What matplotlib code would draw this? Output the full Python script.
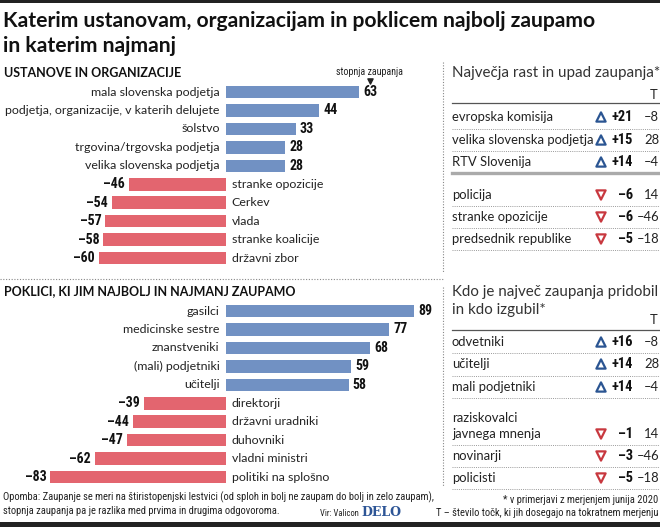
import matplotlib
matplotlib.use('Agg')
import matplotlib.pyplot as plt
from matplotlib import font_manager
from matplotlib.patches import Rectangle

# podatki
inst_labels = ['mala slovenska podjetja', 'podjetja, organizacije, v katerih delujete',
               'šolstvo', 'trgovina/trgovska podjetja', 'velika slovenska podjetja',
               'stranke opozicije', 'Cerkev', 'vlada', 'stranke koalicije', 'državni zbor']
inst_vals = [63, 44, 33, 28, 28, -46, -54, -57, -58, -60]

prof_labels = ['gasilci', 'medicinske sestre', 'znanstveniki', '(mali) podjetniki', 'učitelji',
               'direktorji', 'državni uradniki', 'duhovniki', 'vladni ministri', 'politiki na splošno']
prof_vals = [89, 77, 68, 59, 58, -39, -44, -47, -62, -83]

t1_names = ['evropska komisija', 'velika slovenska podjetja', 'RTV Slovenija',
            'policija', 'stranke opozicije', 'predsednik republike']
t1_change = [21, 15, 14, -6, -6, -5]
t1_T = [-8, 28, -4, 14, -46, -18]

t2_names = ['odvetniki', 'učitelji', 'mali podjetniki', 'raziskovalci\njavnega mnenja',
            'novinarji', 'policisti']
t2_change = [16, 14, 14, -1, -3, -5]
t2_T = [-8, 28, -4, 14, -46, -18]

BLUE = '#7191c3'
RED = '#e3656f'
TRI_BLUE = '#2b5592'
TRI_RED = '#c8383f'

names = {f.name for f in font_manager.fontManager.ttflist}
COND = next((n for n in ['Roboto Condensed', 'Open Sans Condensed', 'Fira Sans Condensed',
                         'Liberation Sans Narrow', 'Noto Sans Condensed'] if n in names), None)
SANS = ['Lato', 'Open Sans', 'DejaVu Sans']
plt.rcParams['font.family'] = SANS


def num(v, sign=False):
    s = str(abs(v))
    if v < 0:
        return '–' + s
    return ('+' + s) if sign else s


def cond_kw(size):
    # ozka pisava, če obstaja, sicer manjša navadna
    if COND:
        return dict(family=[COND, 'DejaVu Sans'], fontsize=size)
    return dict(family=SANS, fontsize=size * 0.86)


W, H = 660, 527
LAB = 8.9
TLAB = 9.4
fig = plt.figure(figsize=(W / 100, H / 100), dpi=100)
fig.patch.set_facecolor('white')

ov = fig.add_axes([0, 0, 1, 1])
ov.set_xlim(0, W)
ov.set_ylim(H, 0)
ov.axis('off')

# okvir
ov.add_patch(Rectangle((0, 0), W, 3, color='#222222', lw=0))
ov.add_patch(Rectangle((0, 522), W, 5, color='#222222', lw=0))

# naslov
ov.text(3, 21, 'Katerim ustanovam, organizacijam in poklicem najbolj zaupamo',
        fontsize=15.2, fontweight='bold', va='center', color='#111111')
ov.text(3, 46, 'in katerim najmanj', fontsize=15.2, fontweight='bold', va='center', color='#111111')

ov.text(4, 73, 'USTANOVE IN ORGANIZACIJE', fontsize=9, fontweight='bold', va='center', color='#111111')
ov.text(4, 291, 'POKLICI, KI JIM NAJBOLJ IN NAJMANJ ZAUPAMO', fontsize=9, fontweight='bold',
        va='center', color='#111111')

ov.text(370, 72, 'stopnja zaupanja', ha='center', va='center', color='#222222', **cond_kw(7.2))
ov.scatter([370], [81], marker='v', s=14, color='#222222')

# ločilne črte
ov.plot([0, 443], [279, 279], color='#888888', lw=0.8, ls=(0, (1, 1.5)))
ov.plot([443, 443], [62, 272], color='#888888', lw=0.8, ls=(0, (1, 1.5)))
ov.plot([443, 443], [287, 486], color='#888888', lw=0.8, ls=(0, (1, 1.5)))

# stolpci
SCALE = 2.115
ZERO = 226


def bars(top_px, labels, vals):
    n = len(vals)
    step = 18.45
    ax = fig.add_axes([0, 1 - (top_px + n * step) / H, 440 / W, n * step / H])
    ax.set_xlim(-ZERO / SCALE, (440 - ZERO) / SCALE)
    ax.set_ylim(n - 0.5, -0.5)
    ax.axis('off')
    y = list(range(n))
    cols = [BLUE if v > 0 else RED for v in vals]
    ax.barh(y, vals, height=0.68, color=cols, edgecolor='none')
    for i, (lab, v) in enumerate(zip(labels, vals)):
        if v > 0:
            ax.annotate(lab, (0, i), xytext=(-4.5, 0), textcoords='offset points',
                        ha='right', va='center', fontsize=LAB, color='#222222')
            ax.annotate(num(v), (v, i), xytext=(3, 0), textcoords='offset points',
                        ha='left', va='center', fontweight='bold', color='#111111', **cond_kw(10))
        else:
            ax.annotate(lab, (0, i), xytext=(4, 0), textcoords='offset points',
                        ha='left', va='center', fontsize=LAB, color='#222222')
            ax.annotate(num(v), (v, i), xytext=(-3, 0), textcoords='offset points',
                        ha='right', va='center', fontweight='bold', color='#111111', **cond_kw(10))
    return ax


bars(82.8, inst_labels, inst_vals)
bars(301.8, prof_labels, prof_vals)

# tabeli
DOT = dict(color='#9a9a9a', lw=0.7, ls=(0, (1, 1.2)))


def table(title_lines, t_y, line_y, rows_y, seps_y, names_, ch, tv, thick=None):
    for ty, s in title_lines:
        ov.text(452, ty, s, fontsize=10.9, va='center', color='#333333')
    ov.text(658, t_y, 'T', ha='right', va='center', fontsize=TLAB, color='#222222')
    ov.plot([452, 660], [line_y, line_y], color='#555555', lw=0.9)
    for y, nm, c, t in zip(rows_y, names_, ch, tv):
        if '\n' in nm:
            ov.text(452, y + 6, nm, va='bottom', fontsize=TLAB, color='#222222', linespacing=1.4)
        else:
            ov.text(452, y, nm, va='center', fontsize=TLAB, color='#222222')
        up = c > 0
        ov.scatter([601], [y], marker='^' if up else 'v', s=44, facecolors='none',
                   edgecolors=TRI_BLUE if up else TRI_RED, linewidths=1.6)
        ov.text(633, y, num(c, sign=True), ha='right', va='center', fontweight='bold',
                color='#111111', **cond_kw(10.4))
        ov.text(659, y, num(t), ha='right', va='center', fontsize=TLAB, color='#222222')
    for s in seps_y:
        ov.plot([452, 660], [s, s], **DOT)
    if thick:
        ov.plot([452, 660], [thick, thick], color='#aaaaaa', lw=2.4)


table([(73, 'Največja rast in upad zaupanja*')], 95, 103,
      [117, 140, 162, 195, 217, 239], [128.5, 151, 206, 228, 250],
      t1_names, t1_change, t1_T, thick=172.5)

table([(292, 'Kdo je največ zaupanja pridobil'), (310, 'in kdo izgubil*')], 320, 330,
      [342, 364, 387, 434, 456, 478], [353, 376, 398, 444.5, 467, 489], t2_names, t2_change, t2_T)

# opombe
ov.text(658, 500, '* v primerjavi z merjenjem junija 2020', ha='right', va='center',
        color='#222222', **cond_kw(7.6))
ov.text(658, 513, 'T – število točk, ki jih dosegajo na tokratnem merjenju', ha='right', va='center',
        color='#222222', **cond_kw(7.6))
ov.text(3, 497, 'Opomba: Zaupanje se meri na štiristopenjski lestvici (od sploh in bolj ne zaupam '
        'do bolj in zelo zaupam),', va='center', color='#222222', **cond_kw(7.6))
ov.text(3, 511, 'stopnja zaupanja pa je razlika med prvima in drugima odgovoroma.', va='center',
        color='#222222', **cond_kw(7.6))
ov.text(320, 514, 'Vir: Valicon', va='center', color='#222222', **cond_kw(6.2))
ov.text(361, 513, 'DELO', va='center', fontsize=9, fontweight='bold', color='#2d5596',
        family=['DejaVu Serif'])

fig.savefig('out.png', dpi=100, facecolor='white')
